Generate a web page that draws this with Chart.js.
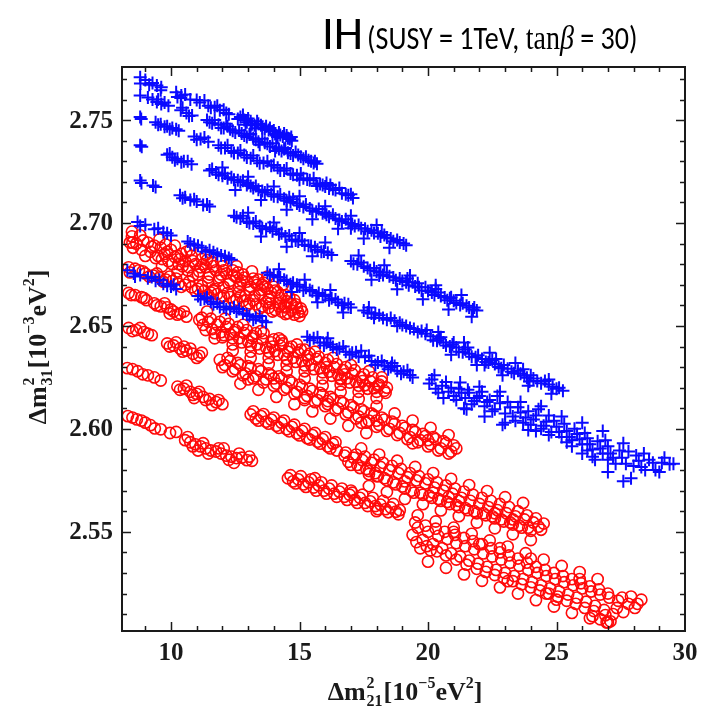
<!DOCTYPE html>
<html>
<head>
<meta charset="utf-8">
<script src="https://cdn.jsdelivr.net/npm/chart.js@4.4.1/dist/chart.umd.min.js"></script>
<style>
  html, body { margin: 0; padding: 0; background: #fff; }
  #wrap { position: relative; width: 705px; height: 713px; }
  #title {
    position: absolute; left: 322px; top: 4px; white-space: nowrap;
    font-family: "Carlito", "Lato", sans-serif; color: #000;
  }
  #title .ih { font-size: 47px; }
  #title .rest { display: inline-block; font-size: 33px; transform: scaleX(0.85); transform-origin: left center; }
  #title .tex { font-family: "Liberation Serif", serif; }
</style>
</head>
<body>
<div id="wrap">
  <canvas id="chart" width="705" height="713"></canvas>
  <div id="title"><span class="ih">IH</span> <span class="rest">(SUSY = 1TeV, <span class="tex">tan<i>β</i></span> = 30)</span></div>
</div>
<script>
// axis ranges and ticks
const xRange = [8.093, 30.0];
const yRange = [2.5018, 2.7758];
const xTicks = [10, 15, 20, 25, 30];
const yTicks = [2.55, 2.60, 2.65, 2.70, 2.75];
const yTickLabels = ["2.55", "2.60", "2.65", "2.70", "2.75"];

// blue crosses, one array per diagonal band
const crossBand1 = [[8.80,2.7708],[8.81,2.7678],[9.28,2.7680],[9.45,2.7668],[9.62,2.7660],[9.60,2.7645],
  [10.20,2.7635],[10.40,2.7620],[10.38,2.7608],[11.00,2.7598],[11.12,2.7585],[11.45,2.7570],[11.70,2.7562],[11.90,2.7548],[12.15,2.7535],
  [12.70,2.7515],[12.85,2.7500],[12.95,2.7490],[13.10,2.7495],[13.25,2.7475],[13.40,2.7482],[13.55,2.7462],[13.70,2.7470],[13.80,2.7452],
  [13.95,2.7445],[14.05,2.7432],[14.20,2.7440],[14.35,2.7420],[14.50,2.7425],[14.62,2.7408],[14.70,2.7400],[13.30,2.7460],[14.15,2.7418],
  [9.00,2.7695],[9.15,2.7672],[10.25,2.7612],[10.55,2.7625],[10.75,2.7600],[11.30,2.7595],[11.55,2.7560],[11.80,2.7570],[12.05,2.7550],
  [12.25,2.7528],[12.80,2.7525],[13.00,2.7508],[13.15,2.7480],[13.35,2.7495],[13.50,2.7475],[13.65,2.7455],[13.85,2.7462],[14.00,2.7450],
  [14.10,2.7425],[14.25,2.7428],[14.40,2.7435],[14.55,2.7412],[14.68,2.7418],[12.60,2.7505],[12.90,2.7478]];
const crossBand2 = [[8.80,2.7620],[9.28,2.7600],[9.45,2.7588],[9.62,2.7578],[9.90,2.7570],[9.75,2.7585],
  [10.38,2.7548],[10.60,2.7535],[10.82,2.7522],
  [11.40,2.7500],[11.60,2.7485],[11.85,2.7478],[12.05,2.7462],[12.30,2.7455],[12.50,2.7440],[12.75,2.7435],[12.95,2.7418],[13.20,2.7412],
  [13.40,2.7395],[13.65,2.7390],[13.85,2.7372],[14.10,2.7368],[14.30,2.7350],[14.55,2.7342],[14.75,2.7328],[14.95,2.7330],[15.15,2.7312],
  [15.35,2.7305],[15.55,2.7292],[15.68,2.7288],[12.20,2.7470],[13.05,2.7430],[14.40,2.7360],
  [9.10,2.7610],[9.50,2.7600],[10.45,2.7560],[10.70,2.7520],[11.50,2.7490],[11.70,2.7500],[11.95,2.7462],[12.15,2.7482],[12.40,2.7448],
  [12.65,2.7450],[12.85,2.7425],[13.10,2.7432],[13.30,2.7405],[13.55,2.7410],[13.75,2.7385],[13.95,2.7388],[14.20,2.7360],[14.45,2.7365],
  [14.65,2.7338],[14.85,2.7345],[15.05,2.7322],[15.25,2.7322],[15.45,2.7300],[15.60,2.7300],[13.45,2.7380],[14.05,2.7350]];
const crossBand3 = [[8.80,2.7515],[8.84,2.7505],[9.40,2.7490],[9.60,2.7480],[9.85,2.7470],[10.05,2.7462],[10.30,2.7448],[9.75,2.7468],
  [10.90,2.7420],[11.15,2.7408],[11.45,2.7395],
  [11.85,2.7378],[12.10,2.7365],[12.35,2.7350],[12.60,2.7340],[12.85,2.7330],[13.10,2.7315],[13.35,2.7302],[13.60,2.7292],[13.90,2.7278],
  [14.15,2.7268],[14.40,2.7255],[14.65,2.7240],[14.90,2.7232],[15.15,2.7218],[15.40,2.7208],[15.65,2.7192],[15.90,2.7185],[16.15,2.7168],
  [16.40,2.7160],[16.65,2.7145],[16.90,2.7135],[17.08,2.7122],[15.00,2.7210],[16.00,2.7178],
  [9.50,2.7478],[9.95,2.7455],[10.20,2.7455],[11.00,2.7405],[11.30,2.7415],[11.95,2.7365],[12.20,2.7378],[12.45,2.7340],[12.70,2.7352],
  [12.95,2.7318],[13.20,2.7328],[13.45,2.7290],[13.75,2.7300],[14.00,2.7282],[14.25,2.7255],[14.50,2.7265],[14.75,2.7235],[15.05,2.7240],
  [15.30,2.7212],[15.55,2.7218],[15.80,2.7190],[16.05,2.7195],[16.30,2.7165],[16.55,2.7170],[16.80,2.7140],[17.00,2.7140],[15.70,2.7180],
  [16.20,2.7185]];
const crossBand4 = [[8.80,2.7378],[8.86,2.7370],[9.85,2.7332],[10.05,2.7320],[10.25,2.7312],[10.50,2.7300],[10.80,2.7285],[10.15,2.7305],
  [11.50,2.7255],[11.75,2.7245],[12.00,2.7230],[12.20,2.7218],[12.45,2.7210],[12.70,2.7198],[12.95,2.7185],[13.20,2.7170],[13.40,2.7162],
  [13.65,2.7148],[13.90,2.7140],[14.15,2.7128],[14.40,2.7118],[14.65,2.7102],[14.90,2.7095],[15.15,2.7078],[15.40,2.7070],[15.65,2.7055],
  [15.90,2.7048],[16.15,2.7030],[16.40,2.7022],[16.65,2.7008],[16.90,2.7000],[17.15,2.6985],[17.40,2.6975],[17.65,2.6960],[17.90,2.6952],
  [18.15,2.6935],[18.40,2.6930],[18.65,2.6912],[18.90,2.6905],[19.15,2.6892],[13.00,2.7195],[14.60,2.7125],[16.00,2.7050],
  [9.95,2.7338],[10.40,2.7295],[10.65,2.7300],[11.60,2.7262],[11.85,2.7235],[12.10,2.7240],[12.35,2.7222],[12.60,2.7208],[12.80,2.7205],
  [13.10,2.7180],[13.30,2.7180],[13.55,2.7155],[13.75,2.7160],[14.00,2.7130],[14.25,2.7138],[14.50,2.7108],[14.75,2.7115],[15.00,2.7085],
  [15.25,2.7090],[15.50,2.7060],[15.75,2.7068],[16.05,2.7040],[16.30,2.7040],[16.55,2.7015],[16.80,2.7018],[17.05,2.6995],[17.30,2.6990],
  [17.55,2.6972],[17.80,2.6965],[18.05,2.6950],[18.30,2.6942],[18.55,2.6925],[18.80,2.6918],[19.05,2.6900],[17.00,2.6975],[18.20,2.6955],
  [12.00,2.7270],[13.00,2.7225],[14.00,2.7178],[15.00,2.7130],[16.00,2.7082],[17.00,2.7035],[18.00,2.6990],[12.50,2.7160],[13.50,2.7112],
  [14.50,2.7065],[15.50,2.7018],[16.50,2.6972],[17.50,2.6925],[18.50,2.6880]];
const crossBand5 = [[8.80,2.7207],[9.30,2.7182],[9.40,2.7175],
  [10.35,2.7135],[10.55,2.7125],[10.75,2.7112],[11.00,2.7105],[11.25,2.7088],[11.50,2.7080],
  [12.45,2.7035],[12.70,2.7022],[12.95,2.7008],[13.20,2.6998],[13.45,2.6985],[13.70,2.6970],[13.95,2.6960],[14.20,2.6945],[14.45,2.6935],
  [14.70,2.6920],[14.95,2.6910],[15.20,2.6895],[15.45,2.6888],[15.70,2.6870],[15.95,2.6862],[16.25,2.6845],
  [17.00,2.6815],[17.25,2.6800],[17.50,2.6790],[17.75,2.6770],[18.00,2.6765],[18.25,2.6748],[18.50,2.6742],[18.75,2.6722],[19.00,2.6718],
  [19.25,2.6698],[19.50,2.6692],[19.75,2.6672],[20.00,2.6670],[20.25,2.6650],[20.50,2.6645],[20.75,2.6625],[21.00,2.6622],[21.25,2.6602],
  [21.50,2.6598],[21.75,2.6580],[21.90,2.6575],[18.10,2.6745],[19.60,2.6708],[20.90,2.6640],[14.10,2.6970],
  [8.85,2.7195],[10.45,2.7120],[10.90,2.7115],[11.40,2.7090],[12.55,2.7028],[12.80,2.7035],[13.05,2.7000],[13.30,2.7008],[13.55,2.6975],
  [13.85,2.6980],[14.30,2.6950],[14.60,2.6940],[14.85,2.6915],[15.10,2.6915],[15.35,2.6890],[15.60,2.6882],[15.85,2.6860],[16.10,2.6855],
  [17.10,2.6802],[17.40,2.6808],[17.65,2.6782],[17.90,2.6782],[18.15,2.6760],[18.40,2.6760],[18.65,2.6735],[18.90,2.6730],[19.15,2.6712],
  [19.40,2.6712],[19.65,2.6688],[19.90,2.6688],[20.15,2.6662],[20.40,2.6662],[20.65,2.6638],[20.85,2.6635],[21.10,2.6612],[21.35,2.6610],
  [21.60,2.6590],[21.80,2.6590],[19.20,2.6730],[20.30,2.6680],
  [13.00,2.7050],[14.00,2.7002],[15.00,2.6952],[16.00,2.6905],[17.30,2.6842],[18.30,2.6795],[19.30,2.6745],[20.30,2.6698],[21.30,2.6650],
  [13.50,2.6935],[14.50,2.6885],[15.50,2.6838],[17.80,2.6725],[18.80,2.6678],[19.80,2.6630],[20.80,2.6580],[21.70,2.6545]];
const crossBand6 = [[8.70,2.7005],[9.00,2.6992],[9.35,2.6970],[9.70,2.6955],[10.00,2.6940],
  [10.65,2.6910],[10.90,2.6895],[11.20,2.6880],[11.50,2.6868],[11.80,2.6850],[12.10,2.6838],[12.35,2.6822],[11.35,2.6860],
  [13.75,2.6758],[14.00,2.6745],[14.25,2.6735],[14.50,2.6718],[14.75,2.6710],[15.00,2.6692],[15.25,2.6685],[15.50,2.6668],[15.75,2.6660],
  [16.00,2.6645],[16.25,2.6635],[16.50,2.6615],[16.75,2.6610],[17.00,2.6590],
  [17.50,2.6575],[17.80,2.6560],[18.10,2.6552],[18.40,2.6530],[18.70,2.6525],[19.00,2.6505],[19.30,2.6490],[19.60,2.6470],[19.90,2.6462],
  [17.90,2.6540],[18.80,2.6500],
  [20.10,2.6450],[20.35,2.6428],[20.60,2.6420],[20.85,2.6400],[21.10,2.6395],[21.35,2.6372],[21.60,2.6365],[21.85,2.6348],[22.10,2.6340],
  [22.35,2.6322],[22.60,2.6315],[22.85,2.6295],[23.10,2.6292],[23.35,2.6270],[23.60,2.6268],[23.85,2.6248],[24.10,2.6245],[24.40,2.6222],
  [24.70,2.6215],[25.00,2.6195],[25.25,2.6185],[21.00,2.6420],[22.20,2.6310],[23.70,2.6290],[20.50,2.6445],
  [8.80,2.6985],[9.50,2.6975],[9.85,2.6950],[10.75,2.6900],[11.05,2.6890],[11.65,2.6858],[11.95,2.6842],[12.25,2.6830],[13.85,2.6748],
  [14.15,2.6738],[14.40,2.6725],[14.65,2.6702],[14.90,2.6700],[15.15,2.6672],[15.40,2.6675],[15.65,2.6648],[15.90,2.6652],[16.15,2.6625],
  [16.40,2.6628],[16.65,2.6600],[16.90,2.6605],[17.65,2.6565],[17.95,2.6560],[18.25,2.6538],[18.55,2.6538],[18.90,2.6515],[19.15,2.6500],
  [19.45,2.6485],[19.75,2.6475],[20.20,2.6430],[20.45,2.6438],[20.70,2.6405],[20.95,2.6410],[21.20,2.6375],[21.45,2.6385],[21.70,2.6350],
  [21.95,2.6358],[22.25,2.6325],[22.50,2.6335],[22.75,2.6300],[22.95,2.6310],[23.25,2.6278],[23.50,2.6282],[23.75,2.6258],[24.00,2.6260],
  [24.25,2.6232],[24.55,2.6232],[24.85,2.6205],[25.10,2.6200],[21.55,2.6395],[22.65,2.6340],[23.95,2.6230],[24.70,2.6240],[19.95,2.6480],
  [17.70,2.6590],
  [14.20,2.6775],[15.20,2.6725],[16.20,2.6675],[14.70,2.6665],[15.70,2.6615],[16.70,2.6565],[20.40,2.6470],[21.40,2.6420],[22.40,2.6370],
  [23.40,2.6320],[20.90,2.6360],[21.90,2.6310],[22.90,2.6260],[23.90,2.6210],[24.80,2.6170]];
const crossBand7 = [[8.30,2.6770],[8.55,2.6755],[8.80,2.6748],[9.10,2.6732],[9.40,2.6720],[9.70,2.6705],[10.00,2.6692],[10.20,2.6680],[9.25,2.6738],
  [11.05,2.6645],[11.30,2.6632],[11.55,2.6618],[11.80,2.6610],[12.05,2.6595],[12.30,2.6585],[12.55,2.6570],[12.80,2.6562],[13.05,2.6548],
  [13.30,2.6540],[13.55,2.6525],[13.70,2.6518],[12.45,2.6590],[11.90,2.6592],
  [15.30,2.6448],[15.55,2.6440],[15.80,2.6420],[16.05,2.6418],[16.30,2.6398],[16.55,2.6392],[16.80,2.6375],[17.05,2.6370],[17.30,2.6352],
  [17.55,2.6348],[17.80,2.6330],[18.05,2.6322],[18.30,2.6308],[18.55,2.6300],[18.80,2.6282],[19.05,2.6278],[19.30,2.6262],[16.10,2.6440],
  [17.40,2.6380],[18.60,2.6320],
  [20.05,2.6220],[20.30,2.6195],[20.55,2.6210],[20.80,2.6180],[21.00,2.6160],[21.20,2.6195],[21.45,2.6150],[21.60,2.6175],[21.80,2.6135],
  [22.00,2.6160],[22.20,2.6110],[22.40,2.6140],[22.60,2.6095],[22.80,2.6125],[23.00,2.6075],[23.20,2.6105],[23.40,2.6040],[23.60,2.6080],
  [23.80,2.6055],[24.00,2.6020],[24.20,2.6065],[24.40,2.6000],[24.60,2.6035],[24.80,2.5985],[25.00,2.6010],[25.20,2.5960],[25.40,2.5990],
  [25.60,2.5945],[25.80,2.5975],[26.00,2.5925],[26.20,2.5955],[26.40,2.5900],[26.60,2.5940],[26.80,2.5880],[27.00,2.5915],[27.20,2.5860],
  [27.45,2.5895],[27.70,2.5830],[27.90,2.5760],[28.10,2.5870],[28.30,2.5815],[28.60,2.5850],[28.85,2.5800],[29.10,2.5835],[29.40,2.5828],
  [27.00,2.5790],[27.60,2.5745],[26.50,2.5850],[22.90,2.6020],[21.40,2.6100],
  [8.60,2.6740],[9.55,2.6725],[9.85,2.6695],[10.10,2.6700],[11.15,2.6628],[11.40,2.6640],[11.65,2.6605],[12.15,2.6580],[12.65,2.6582],
  [12.95,2.6555],[13.20,2.6530],[13.45,2.6548],[15.40,2.6430],[15.70,2.6445],[15.95,2.6405],[16.20,2.6410],[16.45,2.6385],[16.70,2.6400],
  [16.95,2.6360],[17.20,2.6372],[17.70,2.6355],[17.95,2.6310],[18.20,2.6330],[18.45,2.6290],[18.70,2.6305],[18.95,2.6268],[19.20,2.6285],
  [19.40,2.6250],
  [20.15,2.6240],[20.40,2.6175],[20.70,2.6228],[20.90,2.6200],[21.10,2.6140],[21.30,2.6175],[21.55,2.6190],[21.70,2.6120],[21.90,2.6150],
  [22.10,2.6180],[22.30,2.6130],[22.50,2.6085],[22.70,2.6160],[23.10,2.6130],[23.30,2.6060],[23.50,2.6105],[23.70,2.6030],[23.90,2.6085],
  [24.10,2.6045],[24.30,2.6095],[24.50,2.6015],[24.70,2.6065],[24.90,2.6040],[25.10,2.5985],[25.30,2.6025],[25.50,2.5960],[25.70,2.6000],
  [25.90,2.5950],[26.10,2.5980],[26.30,2.5925],[26.70,2.5905],[26.90,2.5945],[27.10,2.5880],[27.30,2.5830],[27.55,2.5860],[27.80,2.5890],
  [28.00,2.5820],[28.20,2.5845],[28.45,2.5800],[28.75,2.5835],[29.00,2.5790],[29.55,2.5830],[26.00,2.5880],[26.40,2.5865],[24.20,2.5990],
  [25.60,2.5915],
  [20.25,2.6260],[20.60,2.6150],[21.25,2.6225],[21.50,2.6095],[22.00,2.6205],[22.20,2.6060],[22.80,2.6180],[23.00,2.6030],[23.60,2.6130],
  [23.90,2.5995],[24.40,2.6110],[24.70,2.5970],[25.20,2.6060],[25.40,2.5935],[26.00,2.6030],[26.20,2.5895],[26.80,2.5990],[27.00,2.5850],
  [27.60,2.5930],[28.40,2.5880],[29.20,2.5860]];

// red circles, one array per diagonal band
const circleBand1 = [[8.48,2.6958],[8.48,2.6935],[8.50,2.6905],[8.52,2.6880],[8.80,2.6940],[8.92,2.6915],[8.85,2.6870],
  [9.10,2.6905],[9.20,2.6860],[9.35,2.6890],[9.50,2.6840],[9.60,2.6880],[9.75,2.6850],[9.90,2.6815],[10.00,2.6870],[10.15,2.6835],
  [10.30,2.6800],[10.40,2.6850],[10.55,2.6815],[10.70,2.6785],[10.80,2.6840],[10.95,2.6800],[11.10,2.6765],[11.20,2.6825],[11.35,2.6785],
  [11.50,2.6750],[11.60,2.6810],[11.75,2.6770],[11.90,2.6735],[12.00,2.6790],[12.15,2.6755],[12.30,2.6720],[12.40,2.6770],[12.55,2.6735],
  [12.70,2.6705],[12.80,2.6750],[12.95,2.6715],[13.10,2.6690],[13.20,2.6730],[13.35,2.6700],[13.50,2.6675],[13.60,2.6710],[13.75,2.6680],
  [13.90,2.6660],[14.00,2.6690],[14.15,2.6665],[14.30,2.6650],[10.60,2.6860],[11.40,2.6820],[12.60,2.6760],[9.80,2.6895],[13.40,2.6725],
  [14.50,2.6620],[14.70,2.6605],[14.90,2.6590],[15.10,2.6570],[14.60,2.6640],[14.80,2.6625],[13.80,2.6630],[14.20,2.6610],
  [8.40,2.6905],[8.65,2.6900],[9.00,2.6840],[9.25,2.6885],[9.40,2.6830],[9.65,2.6825],[9.85,2.6860],[10.05,2.6800],[10.25,2.6840],
  [10.45,2.6790],[10.65,2.6770],[10.85,2.6815],[11.05,2.6750],[11.25,2.6800],[11.45,2.6735],[11.65,2.6790],[11.85,2.6720],[12.05,2.6770],
  [12.25,2.6705],[12.45,2.6745],[12.65,2.6690],[12.85,2.6735],[13.05,2.6675],[13.25,2.6712],[13.45,2.6655],[13.65,2.6690],[13.85,2.6645],
  [14.05,2.6672],[14.25,2.6635],[14.45,2.6650],[14.65,2.6610],[14.85,2.6605],[15.05,2.6585],[10.35,2.6825],[11.15,2.6785],[11.95,2.6750],
  [12.75,2.6720],[13.55,2.6700],
  [9.55,2.6920],[10.15,2.6890],[10.75,2.6870],[11.35,2.6845],[11.95,2.6815],[12.55,2.6790],[13.15,2.6765],[13.75,2.6740],[14.35,2.6700],
  [9.65,2.6790],[10.25,2.6765],[10.85,2.6745],[11.45,2.6715],[12.05,2.6690],[12.65,2.6665],[13.25,2.6645],[13.85,2.6610],[14.45,2.6590]];
const circleBand2 = [[8.35,2.6785],[8.40,2.6760],[8.75,2.6770],[9.00,2.6755],[9.30,2.6745],[9.55,2.6735],[9.80,2.6725],[10.05,2.6718],
  [10.30,2.6705],[10.55,2.6700],[10.80,2.6688],[11.05,2.6680],[11.30,2.6672],[11.55,2.6662],[11.80,2.6655],[12.05,2.6645],[12.30,2.6640],
  [12.55,2.6628],[12.80,2.6622],[13.05,2.6610],[13.30,2.6605],[13.55,2.6595],[13.80,2.6588],[14.05,2.6578],[14.30,2.6570],[14.55,2.6562],
  [14.80,2.6555],[15.00,2.6548],[10.20,2.6730],[11.70,2.6680],[12.90,2.6645],[13.70,2.6615],[14.40,2.6595],
  [8.60,2.6778],[8.90,2.6765],[9.15,2.6740],[9.45,2.6755],[9.70,2.6715],[9.95,2.6740],[10.40,2.6690],[10.70,2.6715],[10.95,2.6670],
  [11.20,2.6695],[11.45,2.6650],[11.65,2.6670],[11.95,2.6638],[12.20,2.6660],[12.45,2.6620],[12.70,2.6645],[12.95,2.6600],[13.20,2.6625],
  [13.45,2.6585],[13.95,2.6570],[14.20,2.6595],[14.45,2.6558],[14.70,2.6575],[14.95,2.6565]];
const circleBand3 = [[8.35,2.6660],[8.60,2.6650],[8.85,2.6640],[9.05,2.6625],
  [9.35,2.6610],[9.60,2.6595],[9.85,2.6590],[10.10,2.6570],[10.35,2.6560],[10.60,2.6545],[9.95,2.6560],
  [11.10,2.6530],[11.25,2.6505],[11.45,2.6520],[11.60,2.6485],[11.80,2.6505],[11.95,2.6470],[12.15,2.6495],[12.30,2.6460],[12.50,2.6480],
  [12.65,2.6440],[12.85,2.6465],[13.00,2.6425],[13.20,2.6450],[13.35,2.6410],[13.55,2.6435],[13.70,2.6395],[13.90,2.6420],[14.05,2.6378],
  [14.25,2.6405],[14.40,2.6360],[14.60,2.6390],[14.75,2.6345],[14.95,2.6370],[15.10,2.6330],[15.30,2.6355],[15.45,2.6310],[15.65,2.6340],
  [15.80,2.6295],[16.00,2.6320],[16.15,2.6278],[16.35,2.6300],[16.50,2.6262],[16.70,2.6285],[16.85,2.6245],[17.05,2.6268],[17.20,2.6228],
  [17.40,2.6250],[17.55,2.6212],[17.75,2.6232],[17.90,2.6198],[18.10,2.6215],[18.30,2.6185],[18.40,2.6200],[12.00,2.6445],[13.60,2.6465],
  [15.20,2.6385],[16.60,2.6240],[14.30,2.6430],
  [8.45,2.6650],[8.95,2.6635],[9.45,2.6600],[9.75,2.6610],[10.00,2.6580],[10.25,2.6555],[10.50,2.6570],[11.20,2.6540],[11.35,2.6480],
  [11.55,2.6535],[11.70,2.6465],[11.90,2.6520],[12.05,2.6455],[12.25,2.6510],[12.40,2.6440],[12.60,2.6495],[12.75,2.6420],[12.95,2.6480],
  [13.10,2.6405],[13.30,2.6465],[13.45,2.6390],[13.80,2.6375],[14.00,2.6435],[14.15,2.6360],[14.35,2.6415],[14.50,2.6340],[14.70,2.6400],
  [14.85,2.6325],[15.05,2.6385],[15.20,2.6308],[15.40,2.6365],[15.55,2.6290],[15.75,2.6350],[15.90,2.6275],[16.10,2.6335],[16.25,2.6258],
  [16.45,2.6315],[16.60,2.6245],[16.80,2.6300],[16.95,2.6225],[17.15,2.6285],[17.30,2.6210],[17.50,2.6265],[17.65,2.6195],[17.85,2.6250],
  [18.00,2.6180],[18.20,2.6230],[18.35,2.6175],[12.45,2.6470],[13.15,2.6440],[13.95,2.6400],[14.55,2.6375],[15.35,2.6335],[16.05,2.6300],
  [16.75,2.6265],[17.45,2.6232],[18.05,2.6210],
  [11.40,2.6570],[12.10,2.6535],[12.80,2.6505],[13.50,2.6475],[14.20,2.6440],[14.90,2.6410],[15.60,2.6375],[16.30,2.6345],[17.00,2.6310],
  [17.70,2.6280],[18.20,2.6250],
  [11.70,2.6440],[12.40,2.6410],[13.10,2.6375],[13.80,2.6345],[14.50,2.6310],[15.20,2.6280],[15.90,2.6245],[16.60,2.6215],[17.30,2.6180],
  [18.00,2.6150]];
const circleBand4 = [[8.35,2.6490],[8.65,2.6480],[8.95,2.6470],[9.25,2.6455],
  [9.85,2.6415],[10.10,2.6405],[10.35,2.6390],[10.60,2.6380],[10.85,2.6365],[11.10,2.6355],[10.50,2.6400],
  [11.90,2.6335],[12.10,2.6310],[12.30,2.6330],[12.50,2.6290],[12.70,2.6310],[12.90,2.6270],[13.10,2.6295],[13.30,2.6255],[13.50,2.6280],
  [13.70,2.6240],[13.90,2.6260],[14.10,2.6220],[14.30,2.6245],[14.50,2.6200],[14.70,2.6225],[14.90,2.6180],[15.10,2.6205],[15.30,2.6160],
  [15.50,2.6185],[15.70,2.6140],[15.90,2.6165],[16.10,2.6120],[16.30,2.6145],[16.50,2.6100],[16.70,2.6125],[16.90,2.6080],[17.10,2.6105],
  [17.30,2.6060],[17.50,2.6085],[17.70,2.6040],[17.90,2.6065],[18.10,2.6020],[18.30,2.6045],[18.50,2.6000],[18.70,2.6025],[18.90,2.5980],
  [19.10,2.6005],[19.30,2.5960],[19.50,2.5985],[19.70,2.5945],[19.90,2.5965],[20.10,2.5925],[20.30,2.5950],[20.50,2.5905],[20.70,2.5930],
  [20.90,2.5890],[21.10,2.5905],[13.00,2.6240],[15.20,2.6140],[17.40,2.6030],[19.40,2.5930],
  [8.50,2.6475],[8.80,2.6490],[9.10,2.6462],[9.95,2.6400],[10.20,2.6420],[10.45,2.6375],[10.75,2.6390],[11.00,2.6345],[11.20,2.6370],
  [12.00,2.6300],[12.20,2.6345],[12.40,2.6280],[12.60,2.6320],[12.80,2.6260],[13.00,2.6305],[13.20,2.6245],[13.40,2.6290],[13.60,2.6225],
  [13.80,2.6270],[14.00,2.6210],[14.20,2.6255],[14.40,2.6190],[14.60,2.6235],[14.80,2.6170],[15.00,2.6215],[15.20,2.6150],[15.40,2.6195],
  [15.60,2.6130],[15.80,2.6175],[16.00,2.6110],[16.20,2.6155],[16.40,2.6090],[16.60,2.6135],[16.80,2.6070],[17.00,2.6115],[17.20,2.6050],
  [17.40,2.6095],[17.60,2.6030],[17.80,2.6075],[18.00,2.6010],[18.20,2.6055],[18.40,2.5990],[18.60,2.6035],[18.80,2.5970],[19.00,2.6015],
  [19.20,2.5950],[19.40,2.5995],[19.60,2.5935],[19.80,2.5975],[20.00,2.5915],[20.20,2.5960],[20.40,2.5895],[20.60,2.5940],[20.80,2.5880],
  [21.00,2.5920],[14.00,2.6245],[16.10,2.6135],[18.00,2.6040],[20.00,2.5945],
  [12.40,2.6380],[13.10,2.6345],[13.80,2.6315],[14.50,2.6280],[15.20,2.6245],[15.90,2.6210],[16.60,2.6180],[17.30,2.6145],[18.00,2.6110],
  [18.70,2.6075],[19.40,2.6040],[20.10,2.6005],[20.80,2.5970],
  [12.70,2.6220],[13.40,2.6190],[14.10,2.6155],[14.80,2.6120],[15.50,2.6085],[16.20,2.6050],[16.90,2.6015],[17.60,2.5980]];
const circleBand5 = [[8.30,2.6295],[8.70,2.6280],[9.10,2.6260],[9.60,2.6235],
  [10.25,2.6205],[10.50,2.6195],[10.75,2.6180],[11.00,2.6170],[11.25,2.6155],[11.50,2.6145],[11.75,2.6130],[12.00,2.6120],[10.90,2.6150],
  [11.60,2.6115],
  [13.10,2.6070],[13.30,2.6050],[13.50,2.6062],[13.70,2.6035],[13.90,2.6045],[14.10,2.6015],[14.30,2.6030],[14.50,2.5998],[14.70,2.6010],
  [14.90,2.5978],[15.10,2.5990],[15.30,2.5955],[15.50,2.5970],[15.70,2.5938],[15.90,2.5950],[16.10,2.5915],[16.30,2.5928],[16.45,2.5895],
  [16.75,2.5870],[16.90,2.5840],[17.10,2.5860],[17.25,2.5825],[17.45,2.5848],[17.60,2.5805],[17.80,2.5835],[17.95,2.5785],[18.15,2.5815],
  [18.30,2.5760],[18.50,2.5800],[18.65,2.5740],[18.85,2.5785],[19.00,2.5720],[19.20,2.5765],[19.35,2.5700],[19.55,2.5750],[19.70,2.5690],
  [19.90,2.5735],[20.05,2.5675],[20.25,2.5715],[20.40,2.5660],[20.60,2.5700],[20.75,2.5645],[20.95,2.5685],[21.10,2.5630],[21.30,2.5665],
  [21.45,2.5615],[21.65,2.5650],[21.80,2.5600],[22.00,2.5635],[22.15,2.5590],[22.35,2.5620],[22.50,2.5575],[22.70,2.5605],[22.85,2.5560],
  [23.05,2.5590],[23.20,2.5545],[23.40,2.5575],[23.55,2.5530],[23.75,2.5560],[23.90,2.5520],[24.10,2.5545],[24.30,2.5525],[24.50,2.5540],
  [18.00,2.5770],[19.10,2.5745],[20.20,2.5690],[21.20,2.5650],[22.60,2.5590],[23.30,2.5560],[17.70,2.5780],[20.80,2.5670],
  [8.50,2.6290],[8.90,2.6265],[9.35,2.6250],[10.35,2.6190],[10.60,2.6210],[10.85,2.6165],[11.10,2.6180],[11.35,2.6140],[11.85,2.6140],
  [13.20,2.6085],[13.40,2.6040],[13.60,2.6072],[13.80,2.6025],[14.00,2.6055],[14.20,2.6005],[14.40,2.6040],[14.60,2.5988],[14.80,2.6020],
  [15.00,2.5968],[15.20,2.6000],[15.40,2.5948],[15.60,2.5980],[15.80,2.5928],[16.00,2.5960],[16.20,2.5905],[16.40,2.5935],
  [16.80,2.5885],[17.00,2.5825],[17.20,2.5875],[17.35,2.5810],[17.55,2.5865],[17.70,2.5795],[17.90,2.5850],[18.05,2.5770],[18.25,2.5835],
  [18.40,2.5750],[18.60,2.5820],[18.75,2.5730],[18.95,2.5805],[19.10,2.5710],[19.30,2.5785],[19.45,2.5690],[19.65,2.5770],[19.80,2.5680],
  [20.00,2.5755],[20.15,2.5665],[20.35,2.5740],[20.50,2.5650],[20.70,2.5725],[20.85,2.5635],[21.05,2.5710],[21.20,2.5620],[21.40,2.5695],
  [21.55,2.5605],[21.75,2.5680],[21.90,2.5590],[22.10,2.5665],[22.25,2.5580],[22.45,2.5650],[22.60,2.5565],[22.80,2.5635],[22.95,2.5550],
  [23.15,2.5620],[23.30,2.5535],[23.50,2.5600],[23.65,2.5520],[23.85,2.5580],[24.00,2.5505],[24.20,2.5565],[24.40,2.5510],
  [17.40,2.5905],[18.10,2.5875],[18.80,2.5845],[19.50,2.5815],[20.20,2.5785],[20.90,2.5757],[21.60,2.5727],[22.30,2.5698],[23.00,2.5668],
  [23.70,2.5640],
  [17.70,2.5722],[18.40,2.5693],[19.10,2.5660],[19.80,2.5634],[20.50,2.5604],[21.20,2.5576],[21.90,2.5545],[22.60,2.5517],[23.30,2.5488],
  [24.00,2.5460]];
const circleBand6 = [[8.32,2.6062],[8.67,2.6046],[9.00,2.6030],[9.37,2.6002],[9.96,2.5980],[10.20,2.5985],
  [10.55,2.5945],[10.75,2.5935],[10.95,2.5925],[11.15,2.5915],[11.35,2.5905],[11.55,2.5895],[11.75,2.5890],[11.95,2.5880],[12.15,2.5870],
  [12.35,2.5865],[12.55,2.5858],[12.75,2.5860],[12.95,2.5848],[13.15,2.5845],[11.05,2.5895],[12.05,2.5905],[12.45,2.5835],
  [14.55,2.5760],[14.75,2.5745],[14.95,2.5755],[15.15,2.5730],[15.35,2.5740],[15.55,2.5715],[15.75,2.5725],[15.95,2.5700],[16.15,2.5710],
  [16.35,2.5685],[16.55,2.5695],[16.75,2.5670],[16.95,2.5680],[17.15,2.5655],[17.35,2.5665],[17.55,2.5640],[17.75,2.5648],[17.95,2.5625],
  [18.15,2.5632],[18.35,2.5610],[18.55,2.5618],[18.75,2.5598],[18.90,2.5605],[15.60,2.5760],[17.00,2.5700],[18.00,2.5600],
  [19.40,2.5485],[19.60,2.5520],[19.80,2.5460],[20.00,2.5500],[20.20,2.5440],[20.40,2.5480],[20.55,2.5420],[20.75,2.5465],[20.90,2.5395],
  [21.10,2.5445],[21.25,2.5380],[21.45,2.5430],[21.60,2.5360],[21.80,2.5415],[21.95,2.5345],[22.15,2.5395],[22.30,2.5330],[22.50,2.5380],
  [22.65,2.5315],[22.85,2.5365],[23.00,2.5300],[23.20,2.5350],[23.35,2.5285],[23.55,2.5335],[23.70,2.5270],[23.90,2.5315],[24.05,2.5255],
  [24.25,2.5300],[24.40,2.5240],[24.60,2.5285],[24.75,2.5225],[24.95,2.5270],[25.10,2.5210],[25.30,2.5255],[25.45,2.5195],[25.65,2.5240],
  [25.80,2.5180],[26.00,2.5225],[26.15,2.5160],[26.35,2.5210],[26.50,2.5140],[26.70,2.5195],[26.85,2.5120],[27.05,2.5180],[27.20,2.5100],
  [27.40,2.5165],[27.60,2.5110],[27.80,2.5150],[28.05,2.5130],[28.30,2.5170],[26.70,2.5075],[27.10,2.5065],[20.10,2.5410],[21.00,2.5500],
  [22.00,2.5440],[23.10,2.5260],[24.00,2.5370],[25.00,2.5170],[25.90,2.5270],[19.70,2.5420],[22.80,2.5420],[24.60,2.5200],
  [8.50,2.6055],[8.85,2.6040],[9.20,2.6018],[9.60,2.5998],[10.65,2.5960],[10.85,2.5915],[11.25,2.5930],[11.45,2.5880],[11.85,2.5905],
  [12.25,2.5850],[12.65,2.5880],[13.05,2.5865],
  [14.65,2.5775],[14.85,2.5735],[15.05,2.5770],[15.25,2.5718],[15.45,2.5755],[15.65,2.5700],[15.85,2.5740],[16.05,2.5685],[16.25,2.5725],
  [16.45,2.5670],[16.65,2.5710],[16.85,2.5655],[17.05,2.5690],[17.25,2.5640],[17.45,2.5680],[17.65,2.5625],[17.85,2.5665],[18.05,2.5610],
  [18.25,2.5650],[18.45,2.5595],[18.65,2.5635],[18.85,2.5585],
  [19.50,2.5545],[19.55,2.5450],[19.90,2.5530],[19.95,2.5430],[20.30,2.5515],[20.35,2.5405],[20.65,2.5500],[20.70,2.5385],[21.05,2.5485],
  [21.10,2.5365],[21.40,2.5470],[21.50,2.5340],[21.75,2.5455],[21.90,2.5320],[22.10,2.5440],[22.25,2.5305],[22.45,2.5420],[22.60,2.5290],
  [22.80,2.5400],[22.95,2.5275],[23.15,2.5385],[23.30,2.5260],[23.50,2.5370],[23.65,2.5245],[23.85,2.5350],[24.00,2.5230],[24.20,2.5330],
  [24.35,2.5215],[24.55,2.5315],[24.70,2.5200],[24.90,2.5300],[25.05,2.5185],[25.25,2.5285],[25.40,2.5165],[25.60,2.5270],[25.75,2.5150],
  [25.95,2.5250],[26.10,2.5130],[26.30,2.5235],[26.45,2.5115],[26.65,2.5220],[26.90,2.5095],[27.00,2.5200],[27.35,2.5130],[27.55,2.5180],
  [27.90,2.5185],[28.15,2.5150],[26.40,2.5090],[26.95,2.5060],
  [19.60,2.5580],[20.30,2.5550],[21.00,2.5520],[21.70,2.5490],[22.40,2.5458],[23.10,2.5428],[23.80,2.5396],[24.50,2.5365],[25.20,2.5334],
  [25.90,2.5304],[26.60,2.5270],
  [20.00,2.5355],[20.70,2.5325],[21.40,2.5293],[22.10,2.5262],[22.80,2.5230],[23.50,2.5200],[24.20,2.5168],[24.90,2.5137],[25.60,2.5106],
  [26.30,2.5080],[27.00,2.5060]];

const toXY = p => ({ x: p[0], y: p[1] });
const crosses = [crossBand1, crossBand2, crossBand3, crossBand4, crossBand5, crossBand6, crossBand7].flat().map(toXY);
const circles = [circleBand1, circleBand2, circleBand3, circleBand4, circleBand5, circleBand6].flat().map(toXY);

const INK = "#1a1a1a";
const TICK_FONT = 'bold 25px "Liberation Serif", "Times New Roman", serif';

// Δm^2_ij [10^-n eV^2] with stacked super/subscript
function massLabel(ctx, sub, pow) {
  const big = 'bold 26px "Liberation Serif", serif';
  const small = 'bold 16px "Liberation Serif", serif';
  const parts = [
    { text: "Δm", font: big, dy: 0 },
    { stack: ["2", sub] },
    { text: "[10", font: big, dy: 0 },
    { text: "−" + pow, font: small, dy: -12 },
    { text: "eV", font: big, dy: 0 },
    { text: "2", font: small, dy: -12 },
    { text: "]", font: big, dy: 0 }
  ];
  let w = 0;
  parts.forEach(p => {
    if (p.stack) {
      ctx.font = small;
      p.w = Math.max(...p.stack.map(s => ctx.measureText(s).width)) + 2;
    } else {
      ctx.font = p.font;
      p.w = ctx.measureText(p.text).width;
    }
    w += p.w;
  });
  let x = -w / 2;
  ctx.textAlign = "left";
  ctx.textBaseline = "alphabetic";
  parts.forEach(p => {
    if (p.stack) {
      ctx.font = small;
      ctx.fillText(p.stack[0], x + 1, -12);
      ctx.fillText(p.stack[1], x + 1, 6);
    } else {
      ctx.font = p.font;
      ctx.fillText(p.text, x, p.dy);
    }
    x += p.w;
  });
}

// frame with inward ticks on all four sides, tick labels and axis titles
const framePlugin = {
  id: "frame",
  afterDatasetsDraw(chart) {
    const { ctx, chartArea: a, scales } = chart;
    const xs = scales.x, ys = scales.y;
    ctx.save();
    ctx.strokeStyle = INK;
    ctx.fillStyle = INK;

    ctx.lineWidth = 1.5;
    ctx.beginPath();
    for (let v = 9; v <= 29; v++) {
      const px = Math.round(xs.getPixelForValue(v)) + 0.5;
      const len = v % 5 === 0 ? 9 : 5;
      ctx.moveTo(px, a.bottom); ctx.lineTo(px, a.bottom - len);
      ctx.moveTo(px, a.top); ctx.lineTo(px, a.top + len);
    }
    for (let k = 251; k <= 277; k++) {
      const v = k / 100;
      const py = Math.round(ys.getPixelForValue(v)) + 0.5;
      const len = k % 5 === 0 ? 9 : 5;
      ctx.moveTo(a.left, py); ctx.lineTo(a.left + len, py);
      ctx.moveTo(a.right, py); ctx.lineTo(a.right - len, py);
    }
    ctx.stroke();

    ctx.lineWidth = 2;
    ctx.strokeRect(a.left, a.top, a.right - a.left, a.bottom - a.top);

    ctx.font = TICK_FONT;
    ctx.textAlign = "center";
    ctx.textBaseline = "top";
    xTicks.forEach(v => ctx.fillText(String(v), xs.getPixelForValue(v), a.bottom + 10));
    ctx.textAlign = "right";
    ctx.textBaseline = "middle";
    yTicks.forEach((v, i) => ctx.fillText(yTickLabels[i], a.left - 9, ys.getPixelForValue(v) + 1));

    ctx.save();
    ctx.translate(405, 700);
    massLabel(ctx, "21", "5");
    ctx.restore();

    ctx.save();
    ctx.translate(46, 347);
    ctx.rotate(-Math.PI / 2);
    massLabel(ctx, "31", "3");
    ctx.restore();

    ctx.restore();
  }
};

new Chart(document.getElementById("chart"), {
  type: "scatter",
  data: {
    datasets: [
      {
        data: crosses,
        pointStyle: "cross",
        pointRadius: 6.5,
        pointBorderWidth: 2,
        pointBorderColor: "#0a0aff",
        pointBackgroundColor: "#0a0aff"
      },
      {
        data: circles,
        pointStyle: "circle",
        pointRadius: 5.6,
        pointBorderWidth: 1.6,
        pointBorderColor: "#ff0a0a",
        pointBackgroundColor: "rgba(0,0,0,0)"
      }
    ]
  },
  options: {
    responsive: false,
    animation: false,
    devicePixelRatio: 1,
    layout: { padding: { left: 122, top: 67, right: 20, bottom: 82 } },
    scales: {
      x: { type: "linear", display: false, min: xRange[0], max: xRange[1] },
      y: { type: "linear", display: false, min: yRange[0], max: yRange[1] }
    },
    plugins: { legend: { display: false }, tooltip: { enabled: false } },
    events: []
  },
  plugins: [framePlugin]
});
</script>
</body>
</html>
